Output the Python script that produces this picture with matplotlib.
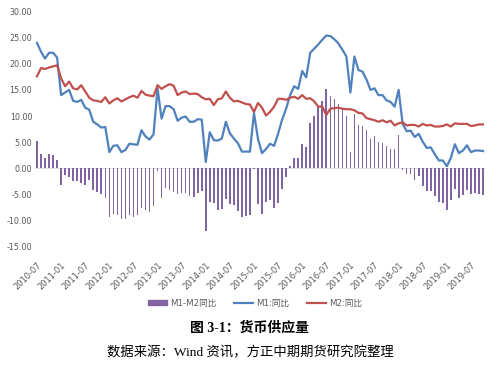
import numpy as np
import pandas as pd
import matplotlib
matplotlib.use('Agg')
import matplotlib.pyplot as plt
from matplotlib.patches import Patch
from matplotlib.lines import Line2D

plt.rcParams['font.family'] = ['DejaVu Sans', 'Noto Sans CJK SC']

# monthly data, 2010-07 .. 2019-10
months = pd.date_range('2010-07-01', '2019-10-01', freq='MS').strftime('%Y-%m').tolist()

m1 = [24.0, 22.3, 21.0, 22.1, 22.1, 21.2,
      14.0, 14.5, 15.0, 12.9, 12.7, 13.1, 11.6, 11.2, 8.9, 8.4, 7.8, 7.9,
      3.1, 4.3, 4.4, 3.1, 3.5, 4.7, 4.6, 4.5, 7.3, 6.1, 5.5, 6.5,
      15.3, 9.5, 11.9, 11.9, 11.3, 9.1, 9.7, 9.9, 8.9, 8.9, 9.4, 9.3,
      1.2, 6.9, 5.4, 5.3, 5.7, 8.9, 6.7, 5.7, 4.8, 3.2, 3.2, 3.2,
      10.6, 5.6, 2.9, 3.7, 4.7, 4.3, 6.6, 9.3, 11.4, 14.0, 15.7, 15.2,
      18.6, 17.4, 22.1, 22.9, 23.7, 24.6, 25.4, 25.3, 24.7, 23.9, 22.7, 21.4,
      14.5, 21.4, 18.8, 18.5, 17.0, 15.0, 15.3, 14.0, 14.0, 13.0, 12.7, 11.8,
      15.0, 8.5, 7.1, 7.2, 6.0, 6.6, 5.1, 3.9, 4.0, 2.7, 1.5, 1.5,
      0.4, 2.0, 4.6, 2.9, 3.4, 4.4, 3.1, 3.4, 3.4, 3.3]

m2 = [17.6, 19.2, 19.0, 19.3, 19.5, 19.7,
      17.2, 15.7, 16.6, 15.3, 15.1, 15.9, 14.7, 13.5, 13.0, 12.9, 12.7, 13.6,
      12.4, 13.0, 13.4, 12.8, 13.2, 13.6, 13.9, 13.5, 14.8, 14.1, 13.9, 13.8,
      15.9, 15.2, 15.7, 16.1, 15.8, 14.0, 14.5, 14.7, 14.2, 14.3, 14.2, 13.6,
      13.2, 13.3, 12.1, 13.2, 13.4, 14.7, 13.5, 12.8, 12.9, 12.6, 12.3, 12.2,
      10.8, 12.5, 11.6, 10.1, 10.8, 11.8, 13.3, 13.3, 13.1, 13.5, 13.7, 13.3,
      14.0, 13.3, 13.4, 12.8, 11.8, 11.8, 10.2, 11.4, 11.5, 11.6, 11.4, 11.3,
      11.3, 11.1, 10.6, 10.5, 9.6, 9.4, 9.2, 8.9, 9.2, 8.8, 9.1, 8.2,
      8.6, 8.8, 8.2, 8.3, 8.3, 8.0, 8.5, 8.2, 8.3, 8.0, 8.0, 8.1,
      8.4, 8.0, 8.6, 8.5, 8.5, 8.5, 8.1, 8.2, 8.4, 8.4]

m1_m2 = [5.3, 2.7, 1.9, 2.8, 2.6, 1.5,
         -3.2, -1.2, -1.6, -2.4, -2.4, -2.8, -3.1, -2.3, -4.1, -4.5, -4.9, -5.7,
         -9.3, -8.7, -9.0, -9.7, -9.7, -8.9, -9.3, -9.0, -7.5, -8.0, -8.4, -7.3,
         -0.6, -5.7, -3.8, -4.2, -4.5, -4.9, -4.8, -4.8, -5.3, -5.4, -4.8, -4.3,
         -12.0, -6.4, -6.7, -7.9, -7.7, -5.8, -6.8, -7.1, -8.1, -9.4, -9.1, -9.0,
         -0.2, -6.9, -8.7, -6.4, -6.1, -7.5, -6.7, -4.0, -1.7, 0.5, 2.0, 1.9,
         4.6, 4.1, 8.7, 10.1, 11.9, 12.8, 15.2, 13.9, 13.2, 12.3, 11.3, 10.1,
         3.2, 10.3, 8.2, 8.0, 7.4, 5.6, 6.1, 5.1, 4.8, 4.2, 3.6, 3.6,
         6.4, -0.3, -1.1, -1.1, -2.3, -1.4, -3.4, -4.3, -4.3, -5.3, -6.5, -6.6,
         -8.0, -6.0, -4.0, -5.6, -5.1, -4.1, -5.0, -4.8, -5.0, -5.1]

c_bar = '#8064A2'
c_m1 = '#4F81BD'
c_m2 = '#C0504D'
grey = '#595959'

x = np.arange(len(months))

fig = plt.figure(figsize=(5, 3.71), dpi=100)
ax = fig.add_axes([0.07, 0.335, 0.90, 0.634])

ax.axhline(0, color='#d9d9d9', lw=0.6, zorder=0)
ax.bar(x, m1_m2, width=0.4, color=c_bar, zorder=1)
ax.plot(x, m1, color=c_m1, lw=1.6, zorder=2)
ax.plot(x, m2, color=c_m2, lw=1.6, zorder=3)

ax.set_xlim(-0.5, len(months) - 0.5)
ax.set_ylim(-15, 30)
ax.set_yticks(np.arange(-15, 31, 5))
ax.set_yticklabels([f'{v:.2f}' for v in np.arange(-15, 31, 5)], fontsize=5.8, color=grey)

ax.set_xticks(x[::6])
ax.set_xticklabels(months[::6], rotation=45, ha='right', rotation_mode='anchor',
                   fontsize=6, color=grey)
ax.tick_params(axis='both', length=0, pad=2)
ax.tick_params(axis='x', pad=10)
for s in ax.spines.values():
    s.set_visible(False)

handles = [Patch(color=c_bar), Line2D([], [], color=c_m1, lw=1.6),
           Line2D([], [], color=c_m2, lw=1.6)]
fig.legend(handles, ['M1-M2同比', 'M1:同比', 'M2:同比'], loc='center',
           bbox_to_anchor=(0.51, 0.183), ncol=3, frameon=False, fontsize=6.2,
           labelcolor=grey, handlelength=2.2, handleheight=0.6, columnspacing=2.0,
           handletextpad=0.4)

fig.text(0.5, 0.115, '图 3-1：货币供应量', ha='center', va='center', fontsize=10,
         fontweight='bold', family=['Liberation Serif', 'Noto Sans CJK SC'])
fig.text(0.5, 0.048, '数据来源：Wind 资讯，方正中期期货研究院整理', ha='center', va='center',
         fontsize=9.6, family=['Liberation Serif', 'Noto Sans CJK SC'])

fig.savefig('out.png', dpi=100)
